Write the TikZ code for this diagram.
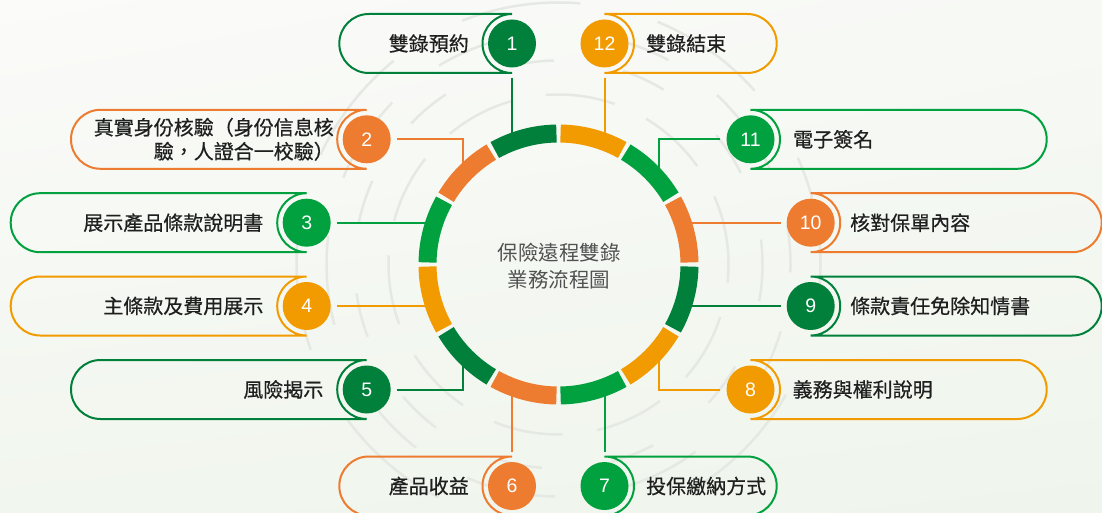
\documentclass[tikz,border=0pt]{standalone}
\usepackage{fontspec}
\usetikzlibrary{shadings}
\setmainfont{Liberation Sans}
\newfontfamily\cjk{Noto Sans CJK TC}
\newfontfamily\cjklab[FakeBold=0.5]{Noto Sans CJK TC}
\newfontfamily\numfont{Liberation Sans}
\definecolor{dkg}{RGB}{0,128,58}
\definecolor{grn}{RGB}{0,161,62}
\definecolor{org}{RGB}{238,124,48}
\definecolor{yel}{RGB}{242,155,0}
\definecolor{bgarc}{RGB}{230,233,227}
\definecolor{bgul}{RGB}{251,251,249}
\definecolor{bgur}{RGB}{247,249,245}
\definecolor{bgll}{RGB}{241,246,238}
\definecolor{bglr}{RGB}{239,245,236}
\newcommand\lpill[4]{%
  \draw[pill=#1] (#2,#3+29.5) -- (#4+29.5,#3+29.5)
    arc[start angle=90,end angle=270,radius=29.5] -- (#2,#3-29.5)
    arc[start angle=270,end angle=90,radius=29.5] -- cycle;}
\newcommand\rpill[4]{%
  \draw[pill=#1] (#2,#3+29.5) -- (#4-29.5,#3+29.5)
    arc[start angle=90,end angle=-90,radius=29.5] -- (#2,#3-29.5)
    arc[start angle=-90,end angle=90,radius=29.5] -- cycle;}
\begin{document}
\begin{tikzpicture}[x=1pt,y=1pt,
  numc/.style={circle, fill=#1, minimum size=48pt, inner sep=0pt, text=white,
    font=\numfont\fontsize{19.5}{19.5}\selectfont},
  lab/.style={font=\cjklab\fontsize{20}{24}\selectfont, text=black!88, inner sep=0pt},
  pill/.style={draw=#1, line width=2pt},
  conn/.style={draw=#1, line width=2pt},
  seg/.style={draw=#1, line width=18pt},
  deco/.style={draw=bgarc, line width=2.5pt}
]
\useasboundingbox (0,0) rectangle (1102,512);
\clip (0,0) rectangle (1102,512);
\shade[upper left=bgul, upper right=bgur, lower left=bgll, lower right=bglr]
  (0,0) rectangle (1102,512);

\coordinate (C) at (558.5,247.5);
% decorative arcs
\draw[deco, dash pattern=on 70pt off 35pt] (C) circle[radius=170];
\draw[deco, dash pattern=on 45pt off 70pt, dash phase=20pt] (C) circle[radius=204];
\draw[deco, dash pattern=on 90pt off 60pt, dash phase=50pt] (C) circle[radius=232];
\draw[deco, dash pattern=on 120pt off 80pt, dash phase=10pt] (C) circle[radius=262];

% pills
\lpill{dkg}{512}{468.5}{339.3}
\rpill{yel}{604.5}{468.5}{776.7}
\lpill{org}{366.7}{372.7}{71}
\rpill{grn}{750.5}{372.7}{1046.7}
\lpill{grn}{306.7}{289.3}{10.7}
\rpill{org}{810.7}{289.3}{1101.7}
\lpill{yel}{306.7}{206}{10.7}
\rpill{dkg}{810.7}{206}{1101.7}
\lpill{dkg}{366.7}{122.5}{71}
\rpill{yel}{750.5}{122.5}{1046.7}
\lpill{org}{512}{26}{339.3}
\rpill{grn}{604.5}{26}{776.7}

% number circles
\node[numc=dkg] (n1) at (512,468.5) {1};
\node[numc=org] (n2) at (366.7,372.7) {2};
\node[numc=grn] (n3) at (306.7,289.3) {3};
\node[numc=yel] (n4) at (306.7,206) {4};
\node[numc=dkg] (n5) at (366.7,122.5) {5};
\node[numc=org] (n6) at (512,26) {6};
\node[numc=grn] (n7) at (604.5,26) {7};
\node[numc=yel] (n8) at (750.5,122.5) {8};
\node[numc=dkg] (n9) at (810.7,206) {9};
\node[numc=org] (n10) at (810.7,289.3) {10};
\node[numc=grn] (n11) at (750.5,372.7) {11};
\node[numc=yel] (n12) at (604.5,468.5) {12};

% ring anchor points
\coordinate (r1) at (512,375.3);
\coordinate (r12) at (604.5,375.3);
\coordinate (r2) at (463,344.3);
\coordinate (r11) at (659,339.1);
\coordinate (r3) at (429,289.3);
\coordinate (r10) at (688,289.3);
\coordinate (r4) at (429,206);
\coordinate (r9) at (688,206);
\coordinate (r5) at (463,150.7);
\coordinate (r8) at (659,155.9);
\coordinate (r6) at (512,119.7);
\coordinate (r7) at (604.5,119.7);

% connectors
\draw[conn=dkg, shorten <=10pt] (n1.south) -- (r1);
\draw[conn=yel, shorten <=10pt] (n12.south) -- (r12);
\draw[conn=org, shorten <=6pt] (n2.east) -| (r2);
\draw[conn=grn, shorten <=6pt] (n11.west) -| (r11);
\draw[conn=grn, shorten <=6pt] (n3.east) -- (r3);
\draw[conn=org, shorten <=6pt] (n10.west) -- (r10);
\draw[conn=yel, shorten <=6pt] (n4.east) -- (r4);
\draw[conn=dkg, shorten <=6pt] (n9.west) -- (r9);
\draw[conn=dkg, shorten <=6pt] (n5.east) -| (r5);
\draw[conn=yel, shorten <=6pt] (n8.west) -| (r8);
\draw[conn=org, shorten <=10pt] (n6.north) -- (r6);
\draw[conn=grn, shorten <=10pt] (n7.north) -- (r7);

% ring
\foreach \k/\c in {1/dkg,2/org,3/grn,4/yel,5/dkg,6/org,7/grn,8/yel,9/dkg,10/org,11/grn,12/yel}{
  \pgfmathsetmacro\sa{90+30*(\k-1)+0.9}
  \pgfmathsetmacro\ea{90+30*\k-0.9}
  \draw[seg=\c] ([shift={(\sa:131)}]C) arc[start angle=\sa, end angle=\ea, radius=131];
}

% labels
\node[lab, anchor=east] (t1) at (469,468.5) {雙錄預約};
\node[lab, anchor=east, align=right] (t2) at (334,372.7) {真實身份核驗（身份信息核\\驗，人證合一校驗）};
\node[lab, anchor=east] (t3) at (263.5,289.3) {展示產品條款說明書};
\node[lab, anchor=east] (t4) at (263.5,206) {主條款及費用展示};
\node[lab, anchor=east] (t5) at (323.5,122.5) {風險揭示};
\node[lab, anchor=east] (t6) at (469,26) {產品收益};
\node[lab, anchor=west] (t7) at (646,26) {投保繳納方式};
\node[lab, anchor=west] (t8) at (792.5,122.5) {義務與權利說明};
\node[lab, anchor=west] (t9) at (850,206) {條款責任免除知情書};
\node[lab, anchor=west] (t10) at (850,289.3) {核對保單內容};
\node[lab, anchor=west] (t11) at (793,372.7) {電子簽名};
\node[lab, anchor=west] (t12) at (646,468.5) {雙錄結束};

\node[font=\cjk\fontsize{20.5}{26.6}\selectfont, text=black!68, align=center, inner sep=0pt]
  (title) at (559,246) {保險遠程雙錄\\業務流程圖};
\end{tikzpicture}
\end{document}
